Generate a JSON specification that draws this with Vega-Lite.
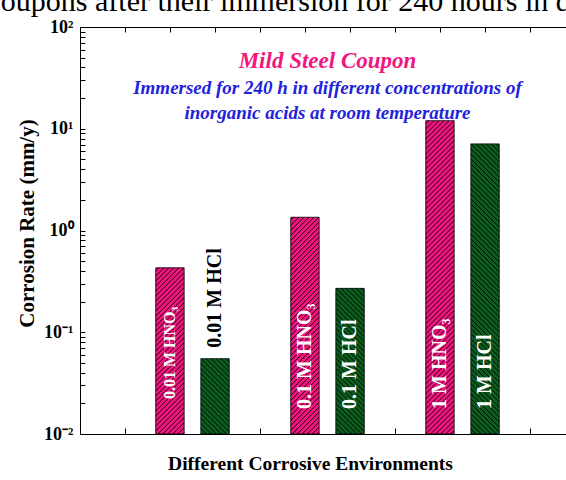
{
  "$schema": "https://vega.github.io/schema/vega-lite/v6.json",
  "width": 486,
  "height": 407,
  "autosize": {"type": "none"},
  "padding": {"left": 80, "top": 27, "right": 0, "bottom": 46},
  "background": "white",
  "config": {
    "view": {"stroke": null},
    "axis": {"grid": false, "domainColor": "black", "tickColor": "black", "domainWidth": 1, "tickWidth": 1}
  },
  "title": {
    "text": "Mild Steel Coupon",
    "subtitle": ["Immersed for 240 h in different concentrations of", "inorganic acids at room temperature"],
    "font": "Liberation Serif",
    "fontSize": 23,
    "fontStyle": "italic",
    "fontWeight": "bold",
    "color": "#F3157F",
    "subtitleFont": "Liberation Serif",
    "subtitleFontSize": 19,
    "subtitleFontStyle": "italic",
    "subtitleFontWeight": "bold",
    "subtitleColor": "#2222DD",
    "subtitleLineHeight": 25,
    "subtitlePadding": 6,
    "anchor": "middle",
    "frame": "group",
    "orient": "top",
    "offset": -137,
    "dx": 4.5
  },
  "data": {
    "values": [
      {"conc": "0.01 M", "acid": "HNO₃", "label": "0.01 M HNO₃", "rate": 0.43},
      {"conc": "0.01 M", "acid": "HCl", "label": "0.01 M HCl", "rate": 0.055},
      {"conc": "0.1 M", "acid": "HNO₃", "label": "0.1 M HNO₃", "rate": 1.35},
      {"conc": "0.1 M", "acid": "HCl", "label": "0.1 M HCl", "rate": 0.27},
      {"conc": "1 M", "acid": "HNO₃", "label": "1 M HNO₃", "rate": 12.0},
      {"conc": "1 M", "acid": "HCl", "label": "1 M HCl", "rate": 7.1}
    ]
  },
  "layer": [
    {
      "encoding": {
        "x": {
          "field": "conc",
          "type": "nominal",
          "sort": null,
          "scale": {"paddingInner": 0, "paddingOuter": 0.3333, "rangeMax": 495},
          "axis": {
            "orient": "bottom",
            "tickBand": "extent",
            "labels": false,
            "tickSize": -6,
            "title": "Different Corrosive Environments",
            "titleFont": "Liberation Serif",
            "titleFontSize": 19.5,
            "titleFontWeight": "bold",
            "titleColor": "black",
            "titleX": 230,
            "titleY": 35,
            "titleAlign": "center",
            "titleBaseline": "alphabetic"
          }
        },
        "xOffset": {
          "field": "acid",
          "type": "nominal",
          "sort": ["HNO₃", "HCl"],
          "scale": {"paddingInner": 0.372, "paddingOuter": 0.683}
        }
      },
      "layer": [
        {
          "mark": {"type": "bar", "color": "#000000", "xOffset": 2.5, "yOffset": 2.5, "clip": true},
          "encoding": {
            "y": {
              "field": "rate",
              "type": "quantitative",
              "scale": {"type": "log", "domain": [0.01, 100], "nice": false},
              "axis": {
                "orient": "left",
                "values": [0.01, 0.02, 0.03, 0.04, 0.05, 0.06, 0.07, 0.08, 0.09, 0.1, 0.2, 0.3, 0.4, 0.5, 0.6, 0.7, 0.8, 0.9, 1, 2, 3, 4, 5, 6, 7, 8, 9, 10, 20, 30, 40, 50, 60, 70, 80, 90, 100],
                "labelExpr": "datum.value === 100 ? '10²' : datum.value === 10 ? '10¹' : datum.value === 1 ? '10⁰' : datum.value === 0.1 ? '10⁻¹' : datum.value === 0.01 ? '10⁻²' : ''",
                "labelFont": "Liberation Serif",
                "labelFontSize": 18,
                "labelFontWeight": "bold",
                "labelColor": "black",
                "labelPadding": 12,
                "labelFlush": false,
                "labelOverlap": false,
                "tickSize": -5,
                "title": "Corrosion Rate (mm/y)",
                "titleFont": "Liberation Serif",
                "titleFontSize": 21,
                "titleFontWeight": "bold",
                "titleColor": "black",
                "titleX": -47,
                "titleY": 196,
                "titleAngle": 270,
                "titleAlign": "center",
                "titleBaseline": "alphabetic"
              }
            },
            "y2": {"datum": 0.01}
          }
        },
        {
          "mark": {"type": "bar", "stroke": "black", "strokeWidth": 0.8, "clip": true},
          "encoding": {
            "y": {"field": "rate", "type": "quantitative"},
            "y2": {"datum": 0.01},
            "color": {
              "field": "acid",
              "type": "nominal",
              "scale": {"domain": ["HNO₃", "HCl"], "range": ["#F3157F", "#0C5E1F"]},
              "legend": null
            }
          }
        },
        {
          "mark": {"type": "point", "filled": false, "size": 4, "color": "black", "strokeWidth": 0.9, "opacity": 1, "clip": true},
          "encoding": {
            "y": {"field": "rate", "type": "quantitative"},
            "shape": {
              "field": "acid",
              "type": "nominal",
              "scale": {
                "domain": ["HNO₃", "HCl"],
                "range": [
                  "M-14,3l3,-3M-14,8l8,-8M-14,13l13,-13M-14,18l18,-18M-14,23l23,-23M-14,28l28,-28m-28,33l28,-28m-28,33l28,-28m-28,33l28,-28m-28,33l28,-28m-28,33l28,-28m-28,33l28,-28m-28,33l28,-28m-28,33l28,-28m-28,33l28,-28m-28,33l28,-28m-28,33l28,-28m-28,33l28,-28m-28,33l28,-28m-28,33l28,-28m-28,33l28,-28m-28,33l28,-28m-28,33l28,-28m-28,33l28,-28m-28,33l28,-28m-28,33l28,-28m-28,33l28,-28m-28,33l28,-28m-28,33l28,-28m-28,33l28,-28m-28,33l28,-28m-28,33l28,-28m-28,33l28,-28m-28,33l28,-28m-28,33l28,-28m-28,33l28,-28m-28,33l28,-28m-28,33l28,-28m-28,33l28,-28m-28,33l28,-28m-28,33l28,-28m-28,33l28,-28m-28,33l28,-28m-28,33l28,-28m-28,33l28,-28m-28,33l28,-28m-28,33l28,-28m-28,33l28,-28m-28,33l28,-28m-28,33l28,-28m-28,33l28,-28m-28,33l28,-28m-28,33l28,-28m-28,33l28,-28m-28,33l28,-28m-28,33l28,-28m-28,33l28,-28m-28,33l28,-28m-28,33l28,-28m-28,33l28,-28m-28,33l28,-28m-28,33l28,-28m-28,33l28,-28m-28,33l28,-28m-28,33l28,-28m-28,33l28,-28m-28,33l28,-28m-28,33l28,-28m-28,33l28,-28m-28,33l28,-28m-28,33l28,-28m-28,33l28,-28m-28,33l28,-28m-28,33l28,-28m-28,33l28,-28",
                  "M11,0l3,3M6,0l8,8M1,0l13,13M-4,0l18,18M-9,0l23,23M-14,0l28,28m-28,-23l28,28m-28,-23l28,28m-28,-23l28,28m-28,-23l28,28m-28,-23l28,28m-28,-23l28,28m-28,-23l28,28m-28,-23l28,28m-28,-23l28,28m-28,-23l28,28m-28,-23l28,28m-28,-23l28,28m-28,-23l28,28m-28,-23l28,28m-28,-23l28,28m-28,-23l28,28m-28,-23l28,28m-28,-23l28,28m-28,-23l28,28m-28,-23l28,28m-28,-23l28,28m-28,-23l28,28m-28,-23l28,28m-28,-23l28,28m-28,-23l28,28m-28,-23l28,28m-28,-23l28,28m-28,-23l28,28m-28,-23l28,28m-28,-23l28,28m-28,-23l28,28m-28,-23l28,28m-28,-23l28,28m-28,-23l28,28m-28,-23l28,28m-28,-23l28,28m-28,-23l28,28m-28,-23l28,28m-28,-23l28,28m-28,-23l28,28m-28,-23l28,28m-28,-23l28,28m-28,-23l28,28m-28,-23l28,28m-28,-23l28,28m-28,-23l28,28m-28,-23l28,28m-28,-23l28,28m-28,-23l28,28m-28,-23l28,28m-28,-23l28,28m-28,-23l28,28m-28,-23l28,28m-28,-23l28,28m-28,-23l28,28m-28,-23l28,28m-28,-23l28,28m-28,-23l28,28m-28,-23l28,28m-28,-23l28,28m-28,-23l28,28m-28,-23l28,28m-28,-23l28,28m-28,-23l28,28m-28,-23l28,28m-28,-23l28,28"
                ]
              },
              "legend": null
            }
          }
        },
        {
          "transform": [{"filter": "datum.rate >= 0.1 && datum.label !== '0.01 M HNO₃'"}],
          "mark": {"type": "text", "angle": 270, "align": "left", "baseline": "middle", "dx": 25, "fontSize": 20, "font": "Liberation Serif", "fontWeight": "bold", "color": "white"},
          "encoding": {
            "y": {"datum": 0.01},
            "text": {"field": "label"}
          }
        },
        {
          "transform": [{"filter": "datum.label === '0.01 M HNO₃'"}],
          "mark": {"type": "text", "angle": 270, "align": "left", "baseline": "middle", "dx": 35, "fontSize": 16, "font": "Liberation Serif", "fontWeight": "bold", "color": "white"},
          "encoding": {
            "y": {"datum": 0.01},
            "text": {"field": "label"}
          }
        },
        {
          "transform": [{"filter": "datum.rate < 0.1"}],
          "mark": {"type": "text", "angle": 270, "align": "left", "baseline": "middle", "dx": 11, "fontSize": 20, "font": "Liberation Serif", "fontWeight": "bold", "color": "black"},
          "encoding": {
            "y": {"field": "rate", "type": "quantitative"},
            "text": {"field": "label"}
          }
        }
      ]
    },
    {
      "mark": {"type": "point", "opacity": 0},
      "encoding": {
        "x": {
          "field": "rate",
          "type": "quantitative",
          "scale": {"domain": [0, 11], "rangeMax": 495, "nice": false, "zero": false},
          "axis": {
            "orient": "top",
            "values": [1, 2, 3, 4, 5, 6, 7, 8, 9, 10],
            "labels": false,
            "tickSize": -5,
            "title": "coupons after their immersion for 240 hours in d",
            "titleFont": "Liberation Serif",
            "titleFontSize": 30,
            "titleFontWeight": "normal",
            "titleColor": "black",
            "titleX": -93,
            "titleY": -17,
            "titleAngle": 0,
            "titleAlign": "left",
            "titleBaseline": "alphabetic"
          }
        },
        "y": {"field": "rate", "type": "quantitative"}
      }
    }
  ],
  "resolve": {"scale": {"x": "independent"}}
}
